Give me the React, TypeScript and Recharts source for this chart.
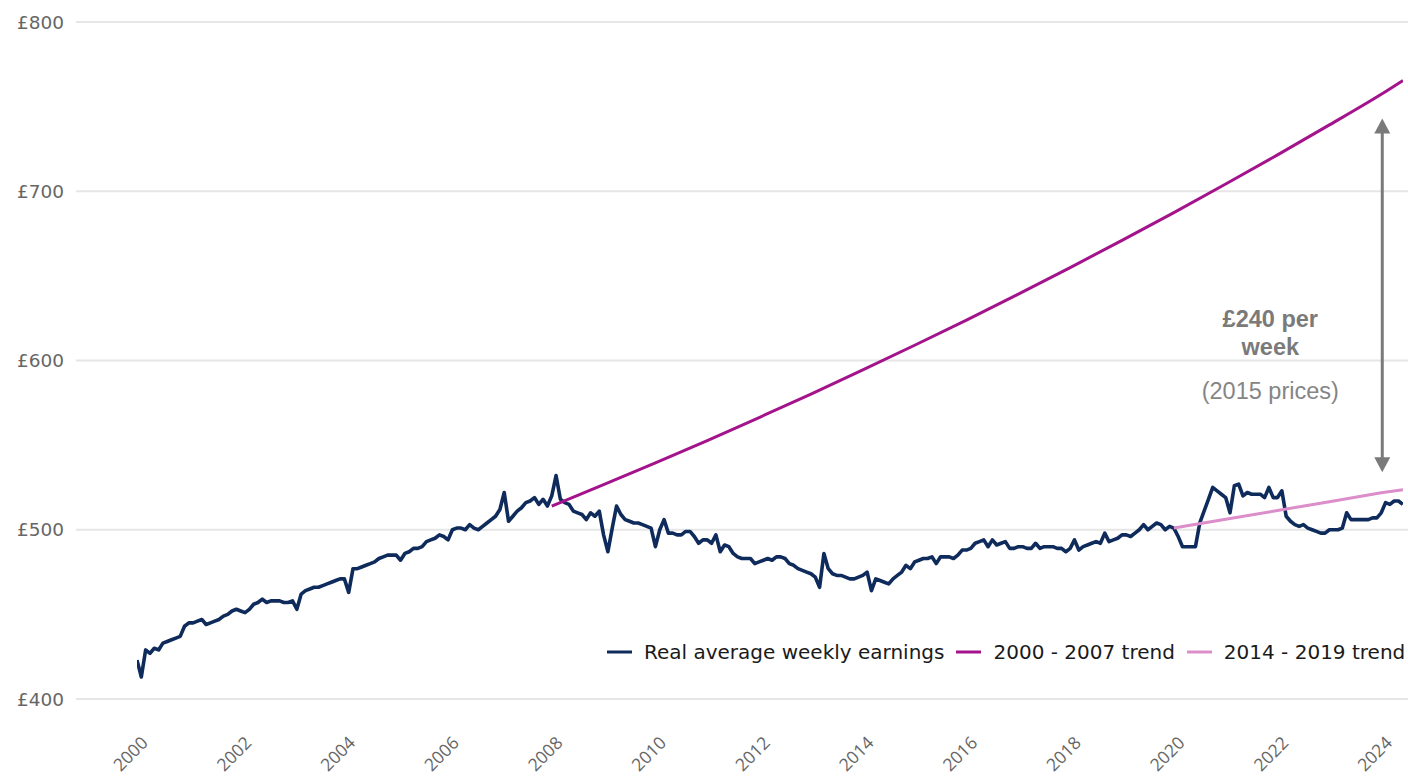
import React from 'react';
import {
  LineChart,
  Line,
  XAxis,
  YAxis,
  CartesianGrid,
  Legend,
  ReferenceLine,
  ReferenceDot,
} from 'recharts';

// ---------------- DATA ----------------
const startYear = 2000;

// Real average weekly earnings (2015 prices, £), monthly Jan 2000 - Jun 2024
const earningsByMonth: number[] = [
  // 2000
  423, 413, 429, 427, 430, 429, 433, 434, 435, 436, 437, 443,
  // 2001
  445, 445, 446, 447, 444, 445, 446, 447, 449, 450, 452, 453,
  // 2002
  452, 451, 453, 456, 457, 459, 457, 458, 458, 458, 457, 457,
  // 2003
  458, 453, 462, 464, 465, 466, 466, 467, 468, 469, 470, 471,
  // 2004
  471, 463, 477, 477, 478, 479, 480, 481, 483, 484, 485, 485,
  // 2005
  485, 482, 486, 487, 489, 489, 490, 493, 494, 495, 497, 496,
  // 2006
  494, 500, 501, 501, 500, 503, 501, 500, 502, 504, 506, 508,
  // 2007
  512, 522, 505, 508, 511, 513, 516, 517, 519, 515, 518, 514,
  // 2008
  520, 532, 518, 516, 515, 511, 510, 509, 506, 510, 508, 511,
  // 2009
  497, 487, 501, 514, 509, 506, 505, 504, 504, 503, 502, 501,
  // 2010
  490, 500, 506, 498, 498, 497, 497, 499, 499, 496, 492, 494,
  // 2011
  494, 492, 497, 487, 491, 490, 486, 484, 483, 483, 483, 480,
  // 2012
  481, 482, 483, 482, 484, 484, 483, 480, 479, 477, 476, 475,
  // 2013
  474, 472, 466, 486, 477, 474, 473, 473, 472, 471, 471, 472,
  // 2014
  473, 475, 464, 471, 470, 469, 468, 471, 473, 475, 479, 477,
  // 2015
  481, 482, 483, 483, 484, 480, 484, 484, 484, 483, 485, 488,
  // 2016
  488, 489, 492, 493, 494, 490, 494, 491, 492, 493, 489, 489,
  // 2017
  490, 490, 489, 489, 492, 489, 490, 490, 490, 489, 489, 487,
  // 2018
  489, 494, 488, 490, 491, 492, 493, 492, 498, 493, 494, 495,
  // 2019
  497, 497, 496, 498, 500, 503, 500, 502, 504, 503, 500, 502,
  // 2020
  501, 496, 490, 490, 490, 490, 504, 511, 518, 525, 523, 521,
  // 2021
  519, 510, 526, 527, 520, 522, 521, 521, 521, 519, 525, 519,
  // 2022
  519, 523, 508, 505, 503, 502, 503, 501, 500, 499, 498, 498,
  // 2023
  500, 500, 500, 501, 510, 506, 506, 506, 506, 506, 507, 507,
  // 2024
  510, 516, 515, 517, 517, 515,
];

// 2000 - 2007 trend (extrapolated)
const trend0007Years: number[] = [
  2008, 2009, 2010, 2011, 2012, 2013, 2014, 2015, 2016, 2017, 2018, 2019, 2020,
  2021, 2022, 2023, 2024, 2024.42,
];
const trend0007Values: number[] = [
  514, 526.6, 539.5, 552.7, 566.3, 580.2, 594.4, 609.0, 623.9, 639.2, 654.9,
  671.0, 687.4, 704.3, 721.5, 739.2, 757.3, 765.5,
];

// 2014 - 2019 trend (extrapolated)
const trend1419Years: number[] = [2020, 2021, 2022, 2023, 2024, 2024.42];
const trend1419Values: number[] = [501, 506.2, 511.4, 516.6, 521.8, 523.6];

const xTicks: number[] = [
  2000, 2002, 2004, 2006, 2008, 2010, 2012, 2014, 2016, 2018, 2020, 2022, 2024,
];
const yTicks: number[] = [400, 500, 600, 700, 800];

const seriesNames: string[] = [
  'Real average weekly earnings',
  '2000 - 2007 trend',
  '2014 - 2019 trend',
];
const seriesColors: string[] = ['#0e2b5c', '#a3138c', '#db8ec9'];

const gapLines: string[] = ['£240 per', 'week'];
const gapNote = '(2015 prices)';
const gapArrow = { x: 2024.02, top: 743, bottom: 534 };
const gapTextPos = { x: 2021.86, line1: 625, line2: 608, note: 582.5 };

// ---------------- TABLES ----------------
const earningsData = earningsByMonth.map((v, i) => ({
  t: startYear + i / 12,
  value: v,
}));
const trend0007Data = trend0007Years.map((t, i) => ({
  t,
  value: trend0007Values[i],
}));
const trend1419Data = trend1419Years.map((t, i) => ({
  t,
  value: trend1419Values[i],
}));

// ---------------- COMPONENTS ----------------
const XTick = (props: any) => {
  const { x, y, payload } = props;
  const ax = x + 12;
  const ay = y + 37;
  return (
    <text
      x={ax}
      y={ay}
      transform={`rotate(-45 ${ax} ${ay})`}
      textAnchor="end"
      fill="#666666"
      fontSize={17.5}
      fontFamily="Open Sans"
    >
      {payload.value}
    </text>
  );
};

const YTick = (props: any) => {
  const { x, y, payload } = props;
  return (
    <text
      x={x + 1}
      y={y}
      dy="0.36em"
      textAnchor="end"
      fill="#666666"
      fontSize={18.5}
      fontFamily="DejaVu Sans"
    >
      {`£${payload.value}`}
    </text>
  );
};

const LegendContent = () => (
  <div
    style={{
      display: 'flex',
      alignItems: 'center',
      fontFamily: 'DejaVu Sans',
      fontSize: 20,
      color: '#1a1a1a',
      whiteSpace: 'nowrap',
      lineHeight: '24px',
    }}
  >
    {seriesNames.map((name, i) => (
      <div
        key={name}
        style={{ display: 'flex', alignItems: 'center', marginRight: i < 2 ? 12 : 0 }}
      >
        <svg width={25} height={4} style={{ marginRight: 12 }}>
          <line x1={0} y1={2} x2={25} y2={2} stroke={seriesColors[i]} strokeWidth={3} />
        </svg>
        <span>{name}</span>
      </div>
    ))}
  </div>
);

const ArrowShape = (props: any) => {
  const { x1, y1, x2, y2 } = props;
  const top = Math.min(y1, y2);
  const bottom = Math.max(y1, y2);
  const c = '#7a7a7a';
  return (
    <g>
      <line x1={x1} y1={top + 12} x2={x2} y2={bottom - 12} stroke={c} strokeWidth={3} />
      <polygon points={`${x1},${top} ${x1 - 8},${top + 15} ${x1 + 8},${top + 15}`} fill={c} />
      <polygon
        points={`${x1},${bottom} ${x1 - 8},${bottom - 15} ${x1 + 8},${bottom - 15}`}
        fill={c}
      />
    </g>
  );
};

const makeTextShape = (text: string, bold: boolean, color: string) => (props: any) => {
  const { cx, cy } = props;
  return (
    <text
      x={cx}
      y={cy}
      dy="0.36em"
      textAnchor="middle"
      fill={color}
      fontSize={23.5}
      fontWeight={bold ? 700 : 400}
      fontFamily="Liberation Sans"
    >
      {text}
    </text>
  );
};

export default function App() {
  return (
    <div style={{ position: 'absolute', left: 0, top: 0, width: 1408, height: 778, background: '#fff' }}>
      <LineChart
        width={1408}
        height={778}
        margin={{ top: 22, right: 0, left: 0, bottom: 0 }}
      >
        <CartesianGrid vertical={false} stroke="#e6e6e6" strokeWidth={2} />
        <XAxis
          dataKey="t"
          type="number"
          domain={[2000, 2024.42]}
          ticks={xTicks}
          padding={{ left: 61, right: 5 }}
          axisLine={false}
          tickLine={false}
          height={79}
          tick={<XTick />}
          interval={0}
          allowDataOverflow
        />
        <YAxis
          type="number"
          domain={[400, 800]}
          ticks={yTicks}
          axisLine={false}
          tickLine={false}
          width={76}
          tickMargin={7}
          tick={<YTick />}
          interval={0}
          allowDataOverflow
        />
        <Line
          data={earningsData}
          dataKey="value"
          name={seriesNames[0]}
          type="linear"
          stroke={seriesColors[0]}
          strokeWidth={3.6}
          strokeLinejoin="round"
          dot={false}
          activeDot={false}
          isAnimationActive={false}
        />
        <Line
          data={trend0007Data}
          dataKey="value"
          name={seriesNames[1]}
          type="monotone"
          stroke={seriesColors[1]}
          strokeWidth={3}
          dot={false}
          activeDot={false}
          isAnimationActive={false}
        />
        <Line
          data={trend1419Data}
          dataKey="value"
          name={seriesNames[2]}
          type="linear"
          stroke={seriesColors[2]}
          strokeWidth={3}
          dot={false}
          activeDot={false}
          isAnimationActive={false}
        />
        <ReferenceLine
          segment={[
            { x: gapArrow.x, y: gapArrow.top },
            { x: gapArrow.x, y: gapArrow.bottom },
          ]}
          shape={<ArrowShape />}
        />
        <ReferenceDot
          x={gapTextPos.x}
          y={gapTextPos.line1}
          r={0}
          shape={makeTextShape(gapLines[0], true, '#7a7a7a')}
        />
        <ReferenceDot
          x={gapTextPos.x}
          y={gapTextPos.line2}
          r={0}
          shape={makeTextShape(gapLines[1], true, '#7a7a7a')}
        />
        <ReferenceDot
          x={gapTextPos.x}
          y={gapTextPos.note}
          r={0}
          shape={makeTextShape(gapNote, false, '#858585')}
        />
        <Legend
          layout="horizontal"
          verticalAlign="middle"
          align="center"
          content={<LegendContent />}
          wrapperStyle={{ position: 'absolute', top: 640, left: 607, width: 'auto' }}
        />
      </LineChart>
    </div>
  );
}
